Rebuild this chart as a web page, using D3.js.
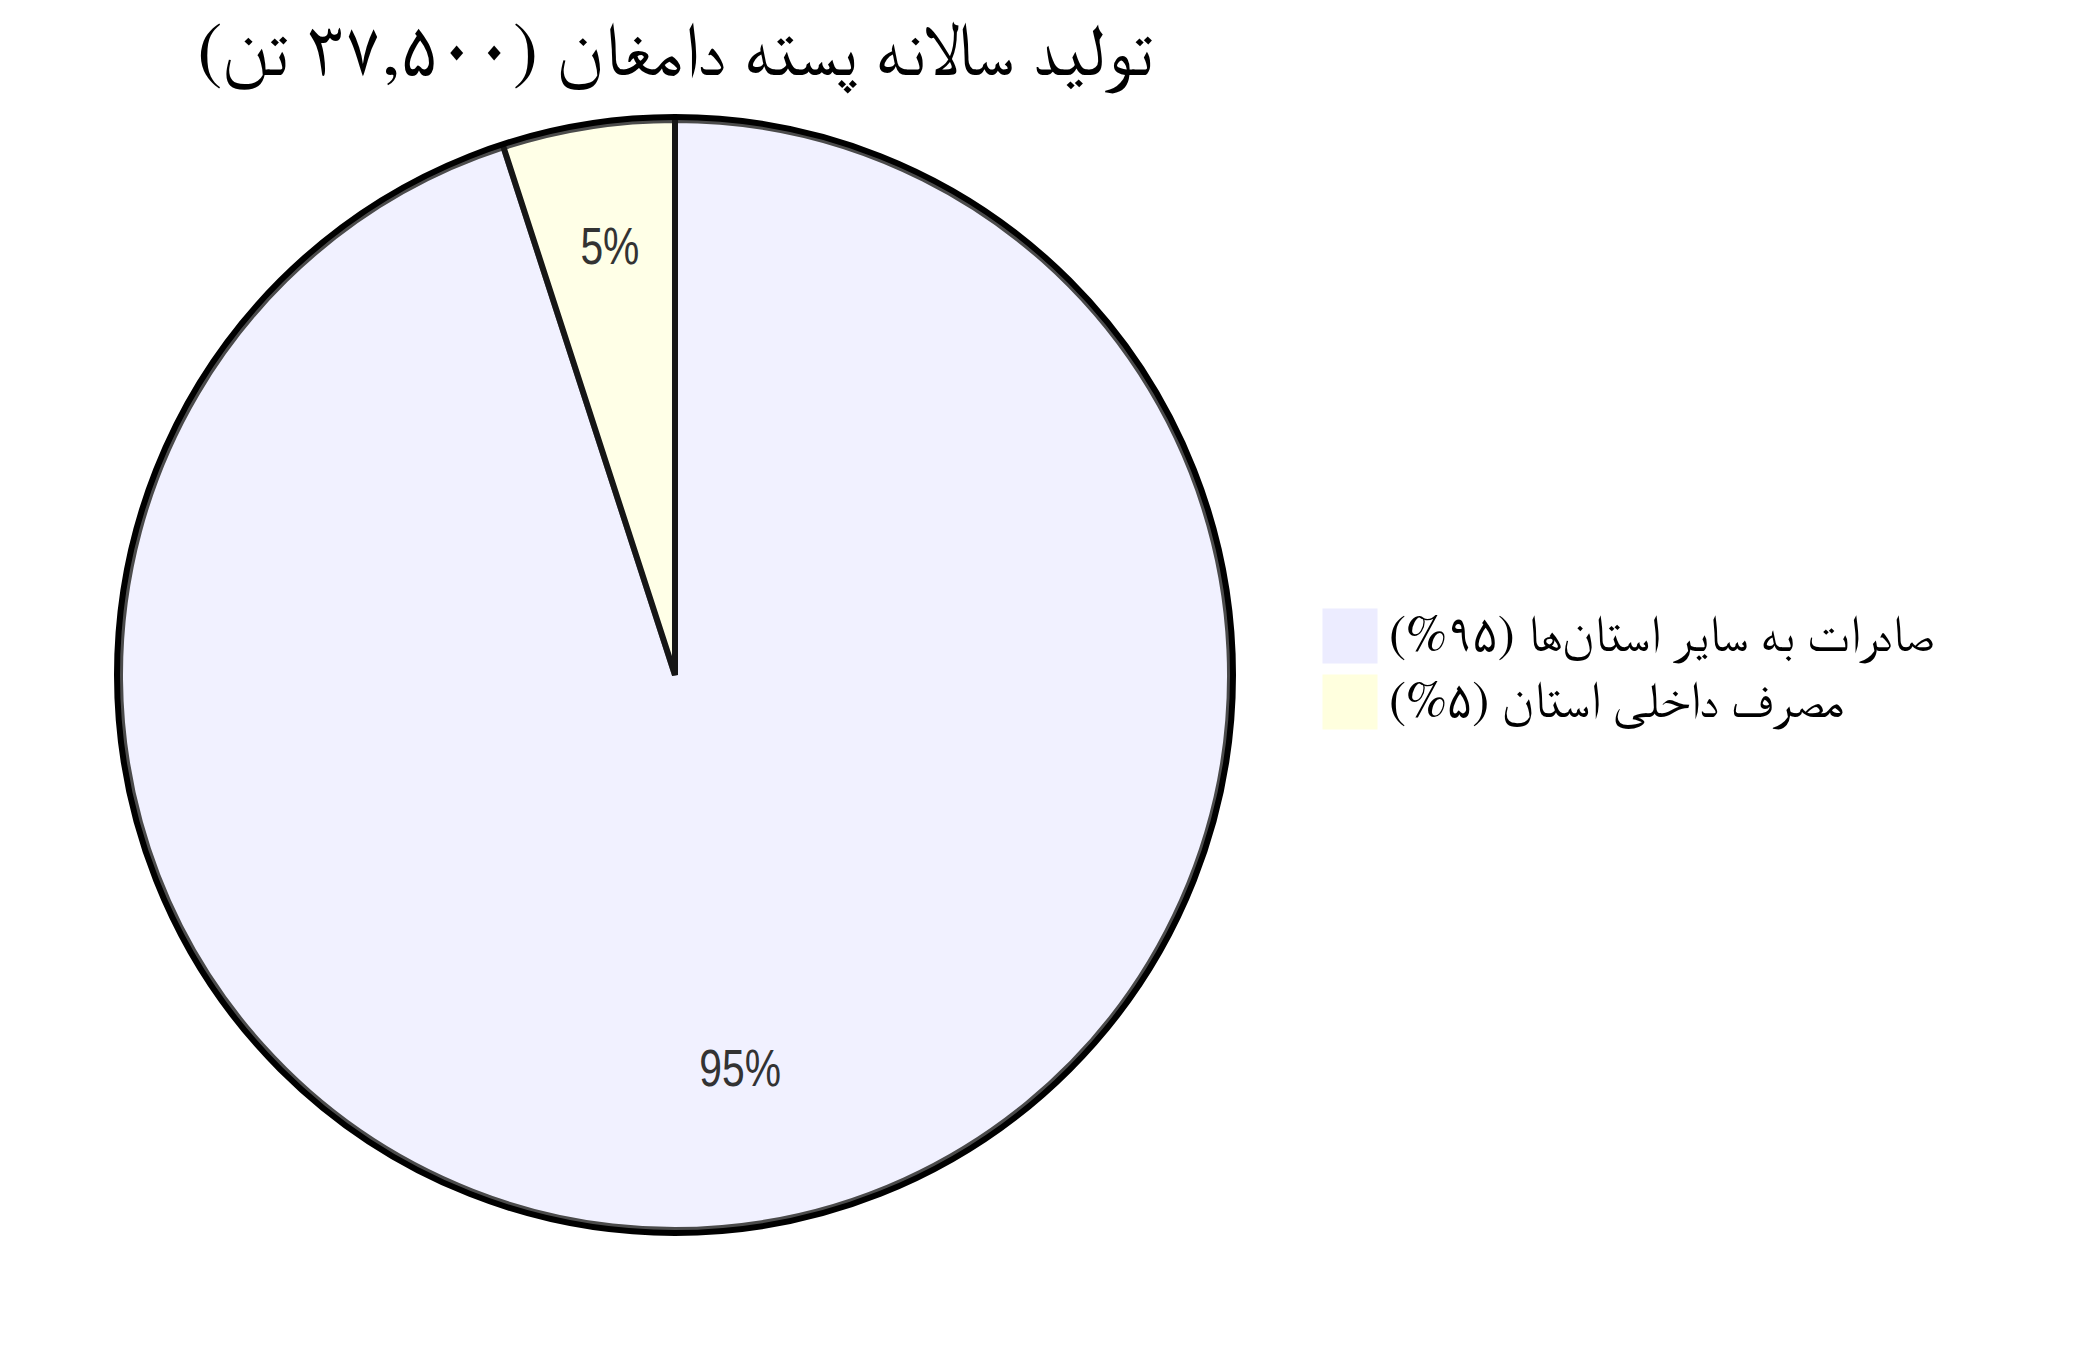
<!DOCTYPE html>
<html>
<head>
<meta charset="utf-8">
<script src="https://cdn.jsdelivr.net/npm/d3@7"></script>
<style>
  html, body { margin: 0; padding: 0; background: #ffffff; }
  svg { display: block; }
</style>
</head>
<body>
<svg id="chart" width="2095" height="1350"></svg>
<script>
const chartTitle = "تولید سالانه پسته دامغان (۳۷,۵۰۰ تن)";
const categories = ["صادرات به سایر استان‌ها (۹۵%)", "مصرف داخلی استان (۵%)"];
const values = [95, 5];
const colors = ["#ECECFF", "#FFFFDE"];

const FONT = '"trebuchet ms", verdana, arial, sans-serif';
const AR_FONT = '"FreeSerif", "Amiri", "Scheherazade New", "Noto Naskh Arabic", serif';
const svg = d3.select("#chart");
const cx = 675, cy = 675, R = 555;

const data = categories.map((c, i) => ({ label: c, value: values[i] }));
const total = d3.sum(values);
const color = d3.scaleOrdinal().domain(categories).range(colors);

const pie = d3.pie().value(d => d.value).sort(null);
const arcs = pie(data);
const arcGen = d3.arc().innerRadius(0).outerRadius(R);
const labelArc = d3.arc().innerRadius(R * 0.75).outerRadius(R * 0.75);

const g = svg.append("g").attr("transform", `translate(${cx},${cy})`);

// outer circle
g.append("circle")
  .attr("r", R + 3)
  .attr("fill", "none")
  .attr("stroke", "#000")
  .attr("stroke-width", 6);

g.selectAll("path.slice")
  .data(arcs)
  .join("path")
  .attr("class", "slice")
  .attr("d", arcGen)
  .attr("fill", d => color(d.data.label))
  .attr("stroke", "#000")
  .attr("stroke-width", 6)
  .attr("opacity", 0.7);

g.selectAll("text.pct")
  .data(arcs)
  .join("text")
  .attr("class", "pct")
  .attr("transform", d => `translate(${labelArc.centroid(d)}) scale(0.8,1)`)
  .attr("text-anchor", "middle")
  .attr("font-family", FONT)
  .attr("font-size", 51)
  .attr("fill", "#333")
  .text(d => ((d.data.value / total) * 100).toFixed(0) + "%");

// title
g.append("text")
  .attr("x", 0)
  .attr("y", -600)
  .attr("text-anchor", "middle")
  .attr("direction", "rtl")
  .attr("font-family", AR_FONT)
  .attr("font-size", 75)
  .attr("fill", "#000")
  .text(chartTitle);

// legend
const legend = g.selectAll("g.legend")
  .data(categories)
  .join("g")
  .attr("class", "legend")
  .attr("transform", (d, i) => `translate(${216 * 3},${(i * 22 - 22) * 3})`);

legend.append("rect")
  .attr("width", 54)
  .attr("height", 54)
  .attr("fill", d => color(d))
  .attr("stroke", d => color(d));

legend.append("text")
  .attr("x", 66)
  .attr("y", 42)
  .attr("direction", "rtl")
  .attr("text-anchor", "end")
  .attr("font-family", AR_FONT)
  .attr("font-size", 51)
  .attr("fill", "#000")
  .text(d => d);
</script>
</body>
</html>
